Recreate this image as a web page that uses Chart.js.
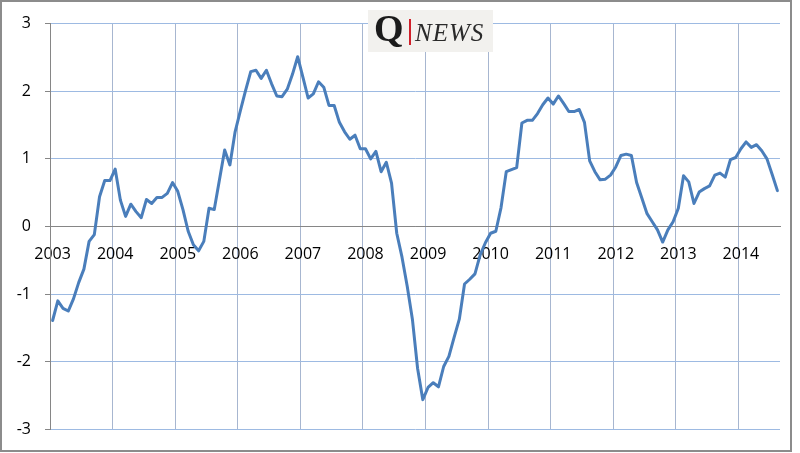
<!DOCTYPE html>
<html>
<head>
<meta charset="utf-8">
<script src="https://cdn.jsdelivr.net/npm/chart.js@4/dist/chart.umd.min.js"></script>
<style>
html,body{margin:0;padding:0;background:#fff;}
#wrap{position:relative;width:800px;height:453px;}
canvas{display:block;}
</style>
</head>
<body>
<div id="wrap"><canvas id="c" width="800" height="453"></canvas></div>
<script>
// ---- data (monthly Jan 2003 – Aug 2014) ----
const years = ['2003','2004','2005','2006','2007','2008','2009','2010','2011','2012','2013','2014'];
const s2003 = [-1.39,-1.10,-1.21,-1.25,-1.07,-0.83,-0.63,-0.22,-0.12,0.44,0.68,0.68];
const s2004 = [0.85,0.39,0.15,0.33,0.22,0.13,0.40,0.34,0.43,0.43,0.49,0.65];
const s2005 = [0.52,0.25,-0.07,-0.27,-0.36,-0.22,0.27,0.25,0.69,1.13,0.91,1.40];
const s2006 = [1.71,2.01,2.29,2.31,2.19,2.31,2.11,1.93,1.92,2.03,2.25,2.51];
const s2007 = [2.21,1.90,1.96,2.14,2.06,1.79,1.79,1.54,1.40,1.29,1.35,1.15];
const s2008 = [1.15,1.00,1.11,0.81,0.95,0.64,-0.10,-0.45,-0.88,-1.37,-2.10,-2.56];
const s2009 = [-2.38,-2.31,-2.37,-2.07,-1.92,-1.64,-1.37,-0.85,-0.78,-0.70,-0.42,-0.24];
const s2010 = [-0.10,-0.07,0.28,0.81,0.84,0.87,1.53,1.57,1.57,1.67,1.80,1.90];
const s2011 = [1.81,1.93,1.82,1.70,1.70,1.73,1.54,0.97,0.81,0.69,0.70,0.76];
const s2012 = [0.88,1.05,1.07,1.05,0.65,0.42,0.19,0.07,-0.05,-0.23,-0.05,0.07];
const s2013 = [0.27,0.75,0.66,0.34,0.51,0.56,0.60,0.76,0.79,0.73,0.99,1.02];
const s2014 = [1.15,1.25,1.17,1.21,1.12,1.00,0.77,0.53];
const yTicks = [-3,-2,-1,0,1,2,3];

const series = [].concat(s2003,s2004,s2005,s2006,s2007,s2008,s2009,s2010,s2011,s2012,s2013,s2014);
const categories = series.map((_, i) => years[Math.floor(i/12)] + '-' + String(i%12+1).padStart(2,'0'));

const hGrid = '#9DBAE2';
const vGrid = '#A7B6D0';
const axisGray = '#868686';
const tickFont = {family:'"Open Sans", "Liberation Sans", sans-serif', size:16};

const decor = {
  id:'decor',
  afterDraw(chart){
    const ctx = chart.ctx;
    ctx.save();
    // logo box
    ctx.fillStyle = '#f2f1ee';
    ctx.fillRect(368,10,125,42);
    ctx.fillStyle = '#1b1b1b';
    ctx.font = 'bold 38px "Liberation Serif", "DejaVu Serif", serif';
    ctx.textBaseline = 'alphabetic';
    ctx.textAlign = 'left';
    ctx.fillText('Q', 374, 41);
    ctx.fillStyle = '#d0202a';
    ctx.fillRect(409,19,2,26);
    ctx.fillStyle = '#2a2a2a';
    ctx.font = 'italic 25px "Liberation Serif", "DejaVu Serif", serif';
    if ('letterSpacing' in ctx) ctx.letterSpacing = '1px';
    ctx.fillText('NEWS', 415, 41);
    if ('letterSpacing' in ctx) ctx.letterSpacing = '0px';
    // outer frame
    ctx.strokeStyle = '#8c8c8c';
    ctx.lineWidth = 2;
    ctx.strokeRect(1,1,790,450);
    ctx.restore();
  }
};

new Chart(document.getElementById('c'), {
  type:'line',
  data:{
    labels: categories,
    datasets:[{
      data: series,
      borderColor:'#4A7EBB',
      borderWidth:3,
      pointRadius:0,
      tension:0,
      borderJoinStyle:'round',
      borderCapStyle:'round',
      fill:false
    }]
  },
  options:{
    responsive:false,
    animation:false,
    devicePixelRatio:1,
    layout:{padding:{left:0,right:20,top:23,bottom:23}},
    plugins:{legend:{display:false},tooltip:{enabled:false}},
    scales:{
      x:{
        type:'category',
        position:{y:0},
        offset:true,
        grid:{
          offset:true,
          drawTicks:false,
          color: c => (c.index !== undefined && c.index % 12 === 0) ? vGrid : 'rgba(0,0,0,0)',
          lineWidth:1
        },
        border:{display:true,color:axisGray,width:1},
        ticks:{
          autoSkip:false,
          maxRotation:0,
          minRotation:0,
          padding:18,
          color:'#000',
          font:tickFont,
          callback:(v,i) => (i % 12 === 0) ? years[i/12] : ''
        }
      },
      y:{
        min:-3,max:3,
        afterBuildTicks: s => { s.ticks = yTicks.map(v => ({value:v})); },
        afterFit: s => { s.width = 50; },
        grid:{
          color: c => (c.tick && c.tick.value === 0) ? axisGray : hGrid,
          tickColor: axisGray,
          tickLength:5,
          lineWidth:1
        },
        border:{display:true,color:axisGray,width:1},
        ticks:{
          padding:14,
          color:'#000',
          font:tickFont
        }
      }
    }
  },
  plugins:[decor]
});
</script>
</body>
</html>
